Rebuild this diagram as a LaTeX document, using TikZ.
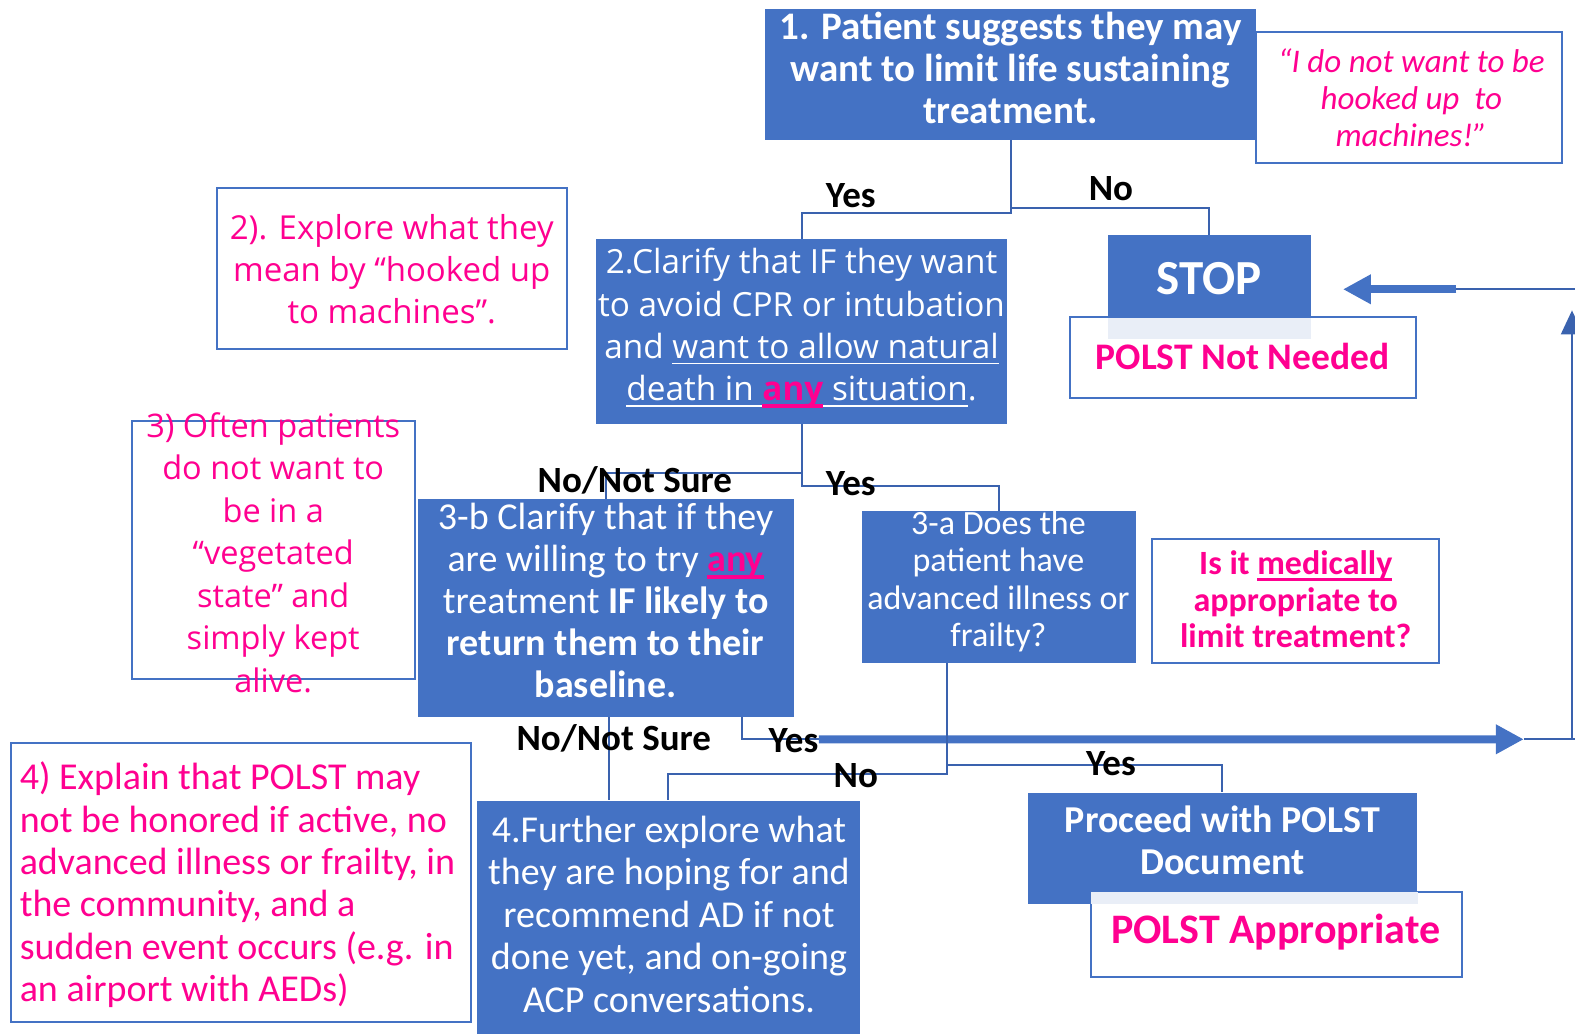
\documentclass[tikz,border=0pt]{standalone}
\usepackage{fontspec}
\setmainfont{Carlito}
\newfontfamily\segoe{Open Sans}
\usetikzlibrary{arrows.meta,fit,calc}
\definecolor{bblue}{HTML}{4472C4}
\definecolor{lblue}{HTML}{3A62AE}
\definecolor{pinkc}{HTML}{FF0090}
\definecolor{lightb}{HTML}{E9EEF7}
\newcommand\fsz[2]{\fontsize{#1}{#2}\selectfont}
% underline: #1 thickness, #2 depth below baseline, #3 text
\newcommand\myul[3]{\leavevmode\setbox0=\hbox{#3}\rlap{\raisebox{-#2}{\rule{\wd0}{#1}}}\box0}
\newcommand\wul[1]{\myul{1.8pt}{6pt}{#1}}
\newcommand\pinkany{{\color{pinkc}\bfseries\myul{3.5pt}{7pt}{any}}}
\begin{document}
\begin{tikzpicture}[x=1.0045pt, y=-1.0045pt,
  bluebox/.style={fill=bblue, draw=none, inner sep=0pt},
  notebox/.style={draw=bblue, line width=2pt, fill=white, inner sep=0pt},
  txt/.style={inner sep=0pt, align=center},
  conn/.style={draw=lblue, line width=2pt},
  fat/.style={draw=bblue, line width=8pt, -{Triangle[length=28pt,width=28pt]}},
  lab/.style={font=\fsz{37}{40}\bfseries, text=black, inner sep=0pt}]
\useasboundingbox (0,0) rectangle (1568,1029.4);

% boxes
\node[notebox, fit={(1250,32)(1555,162)}] (quote) {};
\node[bluebox, fit={(762,9)(1250,139)}] (b1) {};
\node[bluebox, fit={(593,238)(1003,422)}] (b2) {};
\node[notebox, fit={(216,187)(564,347)}] (n2) {};
\node[notebox, fit={(131,419)(413,676)}] (n3) {};
\node[bluebox, fit={(1103,234)(1305,337)}] (stop) {};
\node[notebox, fit={(1065,316)(1410,396)}] (nn) {};
\fill[lightb] (stop.west |- nn.north) ++(0,1.2) rectangle (stop.south east);
\node[bluebox, fit={(416,497)(790,714)}] (b3b) {};
\node[bluebox, fit={(858,509)(1131,660)}] (b3a) {};
\node[notebox, fit={(1147,537)(1433,660)}] (med) {};
\node[notebox, fit={(11,740)(469,1017)}] (n4) {};
\node[bluebox, fit={(475,797)(856,1029.4)}] (b4) {};
\node[bluebox, fit={(1023,789)(1411,900)}] (proc) {};
\node[notebox, fit={(1086,888)(1455,973)}] (appr) {};
\fill[lightb] (appr.north west) ++(1.2,1.2) rectangle (proc.south east);

% connectors
\draw[conn] (b1.south) -- ++(0,73) -| (b2.north);
\draw[conn] (b1.south) ++(0,68) -| (stop.north);
\draw[conn] (b2.south) -- ++(0,49) -| (b3b.north);
\draw[conn] (b2.south) ++(0,49) -- ++(0,13) -| (b3a.north);
\coordinate (c3b) at ($(b3b.south)+(3,0)$);
\draw[conn] (c3b) -- (c3b |- b4.north);
\coordinate (c3by) at ($(b3b.south east)+(-52,0)$);
\draw[conn] (c3by) -- ++(0,22) -- ++(77,0) coordinate (fatstart);
\coordinate (fatend) at (1517,736);
\draw[fat] (fatstart) -- (fatend);
\coordinate (redge) at (1568,736);
\draw[conn] (fatend) -- (redge);
\coordinate (rbot) at (1565,736);
\coordinate (rtop) at (1565,309);
\draw[conn, -{Triangle[length=24pt,width=22pt]}] (rbot) -- (rtop);
\coordinate (tedge) at (1568,288);
\coordinate (tmid) at (1450,288);
\coordinate (stoptip) at (1337,288);
\draw[conn] (tedge) -- (tmid);
\draw[fat] (tmid) -- (stoptip);
\coordinate (c3a) at ($(b3a.south)+(-51.5,0)$);
\draw[conn] (c3a) -- ++(0,110) -| (b4.north);
\draw[conn] (c3a) ++(0,101) -| (proc.north);

% texts
\node[txt, text=white, font=\fsz{39}{42}\bfseries] (t1) at (1006,68) {1. Patient suggests they may\\want to limit life sustaining\\treatment.};
\node[txt, text=pinkc, font=\fsz{33}{37}\itshape] (tq) at (1405,97) {“I do not want to be\\hooked up\ \ to\\machines!”};
\node[txt, text=white, font=\segoe\fsz{33.3}{42.3}] (t2) at (798,327) {2.Clarify that IF they want\\to avoid CPR or intubation\\and \wul{want to allow natural}\\\wul{death in\ }\pinkany\wul{\ situation}.};
\node[txt, text=white, font=\fsz{49}{50}\bfseries] (tstop) at (1204,277) {STOP};
\node[txt, text=pinkc, font=\fsz{37.5}{40}\bfseries] (tnn) at (1237,355) {POLST Not Needed};
\node[txt, text=pinkc, font=\segoe\fsz{33}{42}] (tn2) at (390,268) {2). Explore what they\\mean by “hooked up\\to machines”.};
\node[txt, text=pinkc, font=\segoe\fsz{32.5}{42.5}] (tn3) at (272,550) {3) Often patients\\do not want to\\be in a\\“vegetated\\state” and\\simply kept\\alive.};
\node[txt, text=white, font=\fsz{38}{42}] (t3b) at (603,598) {3-b Clarify that if they\\are willing to try \pinkany\\treatment \textbf{IF likely to}\\\textbf{return them to their}\\\textbf{baseline.}};
\node[txt, text=white, font=\fsz{34}{37.5}] (t3a) at (994,579) {3-a Does the\\patient have\\advanced illness or\\frailty?};
\node[txt, text=pinkc, font=\fsz{34}{36.5}\bfseries] (tmed) at (1290,597) {Is it \myul{2.5pt}{6pt}{medically}\\appropriate to\\limit treatment?};
\node[txt, text=pinkc, font=\fsz{38}{42.4}, align=left, anchor=west] (tn4) at (19.5,881) {4) Explain that POLST may\\not be honored if active, no\\advanced illness or frailty, in\\the community, and a\\sudden event occurs (e.g. in\\an airport with AEDs)};
\node[txt, text=white, font=\fsz{38}{42.5}] (t4) at (666,910) {4.Further explore what\\they are hoping for and\\recommend AD if not\\done yet, and on-going\\ACP conversations.};
\node[txt, text=white, font=\fsz{38}{42}\bfseries] (tproc) at (1217,837) {Proceed with POLST\\Document};
\node[txt, text=pinkc, font=\fsz{42}{44}\bfseries] (tappr) at (1270,928) {POLST Appropriate};

% labels
\node[lab] (y1) at (847,195) {Yes};
\node[lab] (no1) at (1106,188) {No};
\node[lab] (ns1) at (632,478) {No/Not Sure};
\node[lab] (y2) at (847,481) {Yes};
\node[lab] (ns2) at (611,735) {No/Not Sure};
\node[lab] (y3) at (790,737) {Yes};
\node[lab] (no2) at (852,772) {No};
\node[lab] (y4) at (1106,760) {Yes};
\end{tikzpicture}
\end{document}
